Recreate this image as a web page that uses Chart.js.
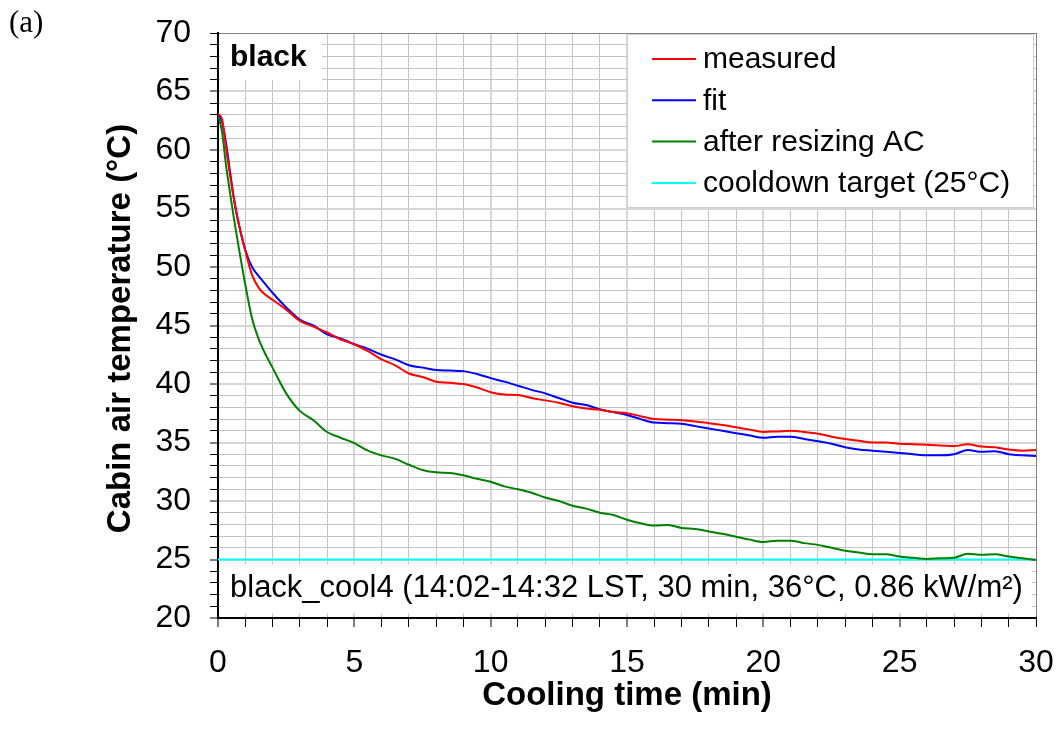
<!DOCTYPE html>
<html>
<head>
<meta charset="utf-8">
<script src="https://cdn.jsdelivr.net/npm/chart.js@4"></script>
<style>
  html, body { margin: 0; padding: 0; background: #fff; }
  #wrap { width: 1061px; height: 744px; }
</style>
</head>
<body>
<div id="wrap"><canvas id="c" width="1061" height="744"></canvas></div>
<script>
// cooling curves, time in minutes
const times = [0, 0.15, 0.3, 0.45, 0.6, 0.75, 1, 1.25, 1.5, 1.75, 2, 2.5, 3, 3.5, 4, 4.5, 5,
  5.5, 6, 6.5, 7, 7.5, 8, 8.5, 9, 9.5, 10, 10.5, 11, 11.5, 12, 12.5, 13, 13.5, 14, 14.5, 15,
  15.5, 16, 16.5, 17, 17.5, 18, 18.5, 19, 19.5, 20, 20.5, 21, 21.5, 22, 22.5, 23, 23.5, 24,
  24.5, 25, 25.5, 26, 26.5, 27, 27.5, 28, 28.5, 29, 29.5, 30];

const measured = [63.1, 62.6, 60.1, 57.7, 55.6, 53.8, 51.4, 49.3, 48.2, 47.6, 47.2, 46.35, 45.4, 44.9, 44.4, 43.8, 43.4,
  42.8, 42.1, 41.6, 40.9, 40.6, 40.2, 40.1, 40.0, 39.7, 39.3, 39.1, 39.05, 38.8, 38.6, 38.4, 38.1, 37.9, 37.8, 37.6, 37.5,
  37.25, 37.0, 36.95, 36.9, 36.8, 36.65, 36.5, 36.3, 36.1, 35.9, 35.95, 36.0, 35.9, 35.75, 35.5, 35.3, 35.15, 35.0,
  35.0, 34.9, 34.85, 34.8, 34.75, 34.7, 34.85, 34.65, 34.6, 34.4, 34.3, 34.35];

const fit = [63.1, 62.4, 60.5, 58.0, 55.6, 53.8, 51.45, 50.0, 49.2, 48.5, 47.8, 46.55, 45.5, 45.0, 44.25, 43.9, 43.4,
  43.0, 42.5, 42.1, 41.6, 41.4, 41.2, 41.15, 41.1, 40.85, 40.5, 40.2, 39.85, 39.5, 39.2, 38.8, 38.4, 38.2, 37.85, 37.6, 37.35,
  37.0, 36.7, 36.65, 36.6, 36.4, 36.2, 36.0, 35.8, 35.6, 35.4, 35.5, 35.5, 35.3, 35.1, 34.9, 34.6, 34.4, 34.3,
  34.2, 34.1, 34.0, 33.9, 33.9, 34.0, 34.35, 34.2, 34.25, 34.0, 33.9, 33.85];

const resized = [63.1, 61.5, 58.6, 56.2, 53.9, 51.8, 48.5, 45.6, 43.8, 42.5, 41.4, 39.2, 37.7, 36.9, 35.9, 35.4, 34.95,
  34.3, 33.9, 33.6, 33.1, 32.65, 32.45, 32.4, 32.2, 31.9, 31.65, 31.25, 31.0, 30.7, 30.3, 30.0, 29.6, 29.35, 29.0, 28.8, 28.4,
  28.1, 27.9, 27.95, 27.7, 27.6, 27.4, 27.2, 26.95, 26.7, 26.5, 26.6, 26.6, 26.4, 26.25, 26.0, 25.75, 25.6, 25.45,
  25.45, 25.25, 25.15, 25.05, 25.1, 25.15, 25.5, 25.4, 25.45, 25.25, 25.1, 24.95];

const targetTimes = [0, 30];
const target = [25, 25];

const seriesLabels = ["measured", "fit", "after resizing AC", "cooldown target (25\u00B0C)"];
const seriesColors = ["#ff0000", "#0000ff", "#008000", "#00ffff"];

const caseName = "black";
const caseNote = "black_cool4 (14:02-14:32 LST, 30 min, 36\u00B0C, 0.86 kW/m\u00B2)";
const xTitle = "Cooling time (min)";
const yTitle = "Cabin air temperature (\u00B0C)";

const FONT = "'Liberation Sans', Arial, sans-serif";

function pts(xs, ys) {
  return xs.map((x, i) => ({ x: x, y: ys[i] }));
}

const series = [
  pts(times, measured),
  pts(times, fit),
  pts(times, resized),
  pts(targetTimes, target)
];

// boxes, legend and titles drawn on top
const overlay = {
  id: "overlay",
  afterDatasetsDraw(chart) {
    const ctx = chart.ctx;
    const a = chart.chartArea;
    ctx.save();

    // case label box
    ctx.fillStyle = "#fff";
    ctx.fillRect(a.left + 2, a.top + 1, 102, 46);
    ctx.fillStyle = "#000";
    ctx.font = "bold 30px " + FONT;
    ctx.textBaseline = "middle";
    ctx.textAlign = "left";
    ctx.fillText(caseName, a.left + 12, a.top + 25);

    // legend box
    const lx = 627, ly = a.top + 1, lw = a.right - 2 - lx, lh = 174;
    ctx.fillStyle = "#fff";
    ctx.fillRect(lx, ly, lw, lh);
    ctx.strokeStyle = "#d0d0d0";
    ctx.lineWidth = 1;
    ctx.strokeRect(lx + 0.5, ly + 0.5, lw - 1, lh - 1);
    ctx.font = "30px " + FONT;
    chart.data.datasets.forEach((ds, i) => {
      const y = 59 + i * 41.3;
      ctx.strokeStyle = ds.borderColor;
      ctx.lineWidth = 2;
      ctx.beginPath();
      ctx.moveTo(652, y);
      ctx.lineTo(696, y);
      ctx.stroke();
      ctx.fillStyle = "#000";
      ctx.fillText(ds.label, 703, y + 1);
    });

    // note box
    const ny = chart.scales.y.getPixelForValue(25) + 5;
    ctx.fillStyle = "#fff";
    ctx.fillRect(a.left + 2, ny, a.right - a.left - 6, 49);
    ctx.fillStyle = "#000";
    ctx.font = "31px " + FONT;
    ctx.fillText(caseNote, a.left + 12, ny + 24);

    // axis titles
    ctx.font = "bold 33px " + FONT;
    ctx.textAlign = "center";
    ctx.fillText(xTitle, (a.left + a.right) / 2, 696);
    ctx.save();
    ctx.translate(121, (a.top + a.bottom) / 2 + 3);
    ctx.rotate(-Math.PI / 2);
    ctx.fillText(yTitle, 0, 0);
    ctx.restore();

    // panel letter
    ctx.font = "31px 'Liberation Serif', 'DejaVu Serif', serif";
    ctx.textAlign = "left";
    ctx.fillText("(a)", 9, 24);

    ctx.restore();
  }
};

new Chart(document.getElementById("c"), {
  type: "line",
  data: {
    datasets: series.map((d, i) => ({
      label: seriesLabels[i],
      data: d,
      borderColor: seriesColors[i],
      backgroundColor: seriesColors[i],
      borderWidth: 2,
      pointRadius: 0,
      fill: false,
      cubicInterpolationMode: "monotone"
    }))
  },
  options: {
    responsive: false,
    animation: false,
    layout: { padding: { top: 33, right: 25, left: 0, bottom: 0 } },
    plugins: {
      legend: { display: false },
      tooltip: { enabled: false }
    },
    scales: {
      x: {
        type: "linear",
        min: 0,
        max: 30,
        afterFit: s => { s.height = 126; s.paddingLeft = 0; s.paddingRight = 0; },
        ticks: {
          stepSize: 1,
          autoSkip: false,
          maxRotation: 0,
          padding: 17,
          color: "#000",
          font: { family: FONT, size: 32 },
          callback: v => (v % 5 === 0 ? v : "")
        },
        grid: {
          color: c => (c.tick && c.tick.value === 30 ? "#808080" : (c.tick && c.tick.value % 5 === 0 ? "#d6d6d6" : "#c4c4c4")),
          lineWidth: c => (c.tick && c.tick.value % 5 === 0 && c.tick.value !== 30 ? 2 : 1),
          tickColor: "#000",
          tickLength: 9,
          tickWidth: 1
        },
        border: { color: "#000", width: 2 }
      },
      y: {
        min: 20,
        max: 70,
        afterFit: s => { s.width = 218; s.paddingTop = 0; s.paddingBottom = 0; },
        ticks: {
          stepSize: 1,
          autoSkip: false,
          padding: 19,
          color: "#000",
          font: { family: FONT, size: 32 },
          callback: v => (v % 5 === 0 ? v : "")
        },
        grid: {
          color: c => (c.tick && c.tick.value === 70 ? "#808080" : (c.tick && c.tick.value % 5 === 0 ? "#d6d6d6" : "#c4c4c4")),
          lineWidth: c => (c.tick && c.tick.value % 5 === 0 && c.tick.value !== 70 ? 2 : 1),
          tickColor: "#000",
          tickLength: 8,
          tickWidth: 1
        },
        border: { color: "#000", width: 2 }
      }
    }
  },
  plugins: [overlay]
});
</script>
</body>
</html>
